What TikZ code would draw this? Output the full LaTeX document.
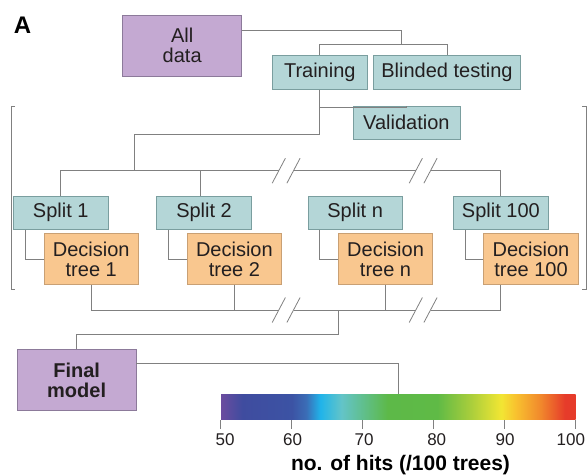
\documentclass[tikz,border=0pt]{standalone}
\usepackage{fontspec}
\setmainfont{Liberation Sans}
\definecolor{tealfill}{HTML}{B4D6D7}
\definecolor{tealedge}{HTML}{7A9E9F}
\definecolor{orfill}{HTML}{F9C78F}
\definecolor{oredge}{HTML}{C9A074}
\definecolor{purfill}{HTML}{C4A9D2}
\definecolor{puredge}{HTML}{8C7A9A}
\definecolor{linegray}{HTML}{808080}
\definecolor{txt}{HTML}{231F20}
\definecolor{cbA}{HTML}{6B4C9F}
\definecolor{cbB}{HTML}{3F4C9F}
\definecolor{cbC}{HTML}{3C53A4}
\definecolor{cbD}{HTML}{3B6DB6}
\definecolor{cbE}{HTML}{20B4EA}
\definecolor{cbF}{HTML}{63C4C8}
\definecolor{cbG}{HTML}{5DB948}
\definecolor{cbH}{HTML}{5FBA46}
\definecolor{cbI}{HTML}{A6CD3C}
\definecolor{cbJ}{HTML}{F2E633}
\definecolor{cbK}{HTML}{F8C22F}
\definecolor{cbL}{HTML}{F1892C}
\definecolor{cbM}{HTML}{E63B2A}
\pgfdeclarehorizontalshading{rainbowbar}{100bp}{color(0bp)=(cbA); color(25bp)=(cbA); color(28bp)=(cbB); color(35bp)=(cbC); color(37bp)=(cbD); color(39bp)=(cbE); color(42bp)=(cbF); color(48.5bp)=(cbG); color(55.5bp)=(cbH); color(60bp)=(cbI); color(64.5bp)=(cbJ); color(66.5bp)=(cbK); color(70bp)=(cbL); color(73.5bp)=(cbM); color(75bp)=(cbM); color(100bp)=(cbM)}
\begin{document}
\begin{tikzpicture}[x=1pt,y=-1pt,
  box/.style={draw, line width=0.8pt, inner sep=0pt, align=center, text=txt, font=\fontsize{20}{20}\selectfont},
  tealbox/.style={box, fill=tealfill, draw=tealedge, minimum width=94.5pt, minimum height=33.5pt},
  treebox/.style={box, fill=orfill, draw=oredge, minimum width=94.5pt, minimum height=51.2pt},
  purbox/.style={box, fill=purfill, draw=puredge},
  conn/.style={draw=linegray, line width=0.8pt},
  slashline/.style={draw=linegray, line width=0.8pt},
  ticklab/.style={text=txt, font=\fontsize{17}{17}\selectfont, inner sep=0pt}]
\useasboundingbox (0,0) rectangle (588,474);

% label
\node[text=black, font=\fontsize{24}{24}\selectfont\bfseries, inner sep=0pt] (lblA) at (22.5,25) {A};

% top boxes
\node[purbox, minimum width=119pt, minimum height=61.5pt] (alldata) at (182.2,45.75) {All\\data};
\node[tealbox, minimum width=95pt] (training) at (319.8,72.4) {Training};
\node[tealbox, minimum width=147.4pt] (blinded) at (447,72.4) {Blinded testing};
\node[tealbox, minimum width=107pt] (validation) at (406.4,122.65) {Validation};

% splits
\node[tealbox] (split1) at (60.75,212.65) {Split 1};
\node[tealbox] (split2) at (204.05,212.65) {Split 2};
\node[tealbox] (splitn) at (355.15,212.65) {Split n};
\node[tealbox] (split100) at (500.85,212.65) {Split 100};

% trees
\node[treebox] (tree1) at (91.25,258.9) {Decision\\tree 1};
\node[treebox] (tree2) at (234.35,258.9) {Decision\\tree 2};
\node[treebox] (treen) at (385.55,258.9) {Decision\\tree n};
\node[treebox] (tree100) at (531,258.9) {Decision\\tree 100};

% final model
\node[purbox, minimum width=118.7pt, minimum height=61.7pt, font=\fontsize{20}{20}\selectfont\bfseries] (final) at (76.65,379.85) {Final\\model};

% colour bar
\node[shade, shading=rainbowbar, inner sep=0pt, minimum width=354.7pt, minimum height=25.4pt] (cbar) at (398.35,407) {};

% junction coordinates
\coordinate (j1) at (401.3,44.3);
\coordinate (j2) at (319.8,106.9);
\coordinate (j3) at (319.8,133.9);
\coordinate (j4) at (134.3,170.7);
\coordinate (t1) at (278.8,170.7);
\coordinate (t2) at (293.5,170.7);
\coordinate (t3) at (415.8,170.7);
\coordinate (t4) at (430.5,170.7);
\coordinate (u1) at (278.8,310);
\coordinate (u2) at (293.5,310);
\coordinate (u3) at (415.8,310);
\coordinate (u4) at (430.5,310);
\coordinate (u5) at (338.6,310);
\coordinate (u6) at (338.6,334.3);

% top connectors
\draw[conn] ([yshift=-15.3pt]alldata.north east) -| (j1);
\draw[conn] (training.north) |- (j1) -| (blinded.north);
\draw[conn] (training.south) -- (j3) -| (j4);
\draw[conn] (j2) -| (validation.north);

% split bus
\draw[conn] (split1.north) |- (t1);
\draw[conn] (t2) -- (t3);
\draw[conn] (t4) -| (split100.north);
\draw[conn] ([xshift=-3.7pt]split2.north) -- ([xshift=-3.7pt]split2.north |- t1);
\foreach \p in {t1,t2,t3,t4}
  \draw[slashline] ([shift={(-6.6,12.5)}]\p) -- ([shift={(6.6,-12.5)}]\p);

% split -> tree elbows
\draw[conn] ([xshift=-35.8pt]split1.south) |- (tree1.west);
\draw[conn] ([xshift=-35.8pt]split2.south) |- (tree2.west);
\draw[conn] ([xshift=-35.8pt]splitn.south) |- (treen.west);
\draw[conn] ([xshift=-35.8pt]split100.south) |- (tree100.west);

% tree bus
\draw[conn] (tree1.south) |- (u1);
\draw[conn] (u2) -- (u3);
\draw[conn] (u4) -| (split100.south |- tree100.south);
\draw[conn] (tree2.south) -- (tree2.south |- u1);
\draw[conn] (treen.south) -- (treen.south |- u1);
\foreach \p in {u1,u2,u3,u4}
  \draw[slashline] ([shift={(-6.6,12.5)}]\p) -- ([shift={(6.6,-12.5)}]\p);

% to final model and colour bar
\draw[conn] (u5) -- (u6) -| (final.north);
\draw[conn] ([yshift=-14.3pt]final.north east) -| (cbar.north);

% bracket
\draw[conn] (15,106.7) -- (11,106.7) -- (11,289.3) -- (15,289.3);
\draw[conn] (582,106.7) -- (586,106.7) -- (586,289.3) -- (582,289.3);

% ticks and labels
\foreach \i in {0,...,5}
  \draw[conn] ([xshift=\i*70.94pt]cbar.south west) -- ++(0,8.6);
\node[ticklab] (l50) at (225,440) {50};
\node[ticklab] (l60) at (292.5,440) {60};
\node[ticklab] (l70) at (364,440) {70};
\node[ticklab] (l80) at (436.7,440) {80};
\node[ticklab] (l90) at (505,440) {90};
\node[ticklab] (l100) at (570.8,440) {100};
\node[text=black, font=\fontsize{21}{21}\selectfont\bfseries, inner sep=0pt] (axlab) at (400.5,465) {no. of hits (/100 trees)};
\end{tikzpicture}
\end{document}
